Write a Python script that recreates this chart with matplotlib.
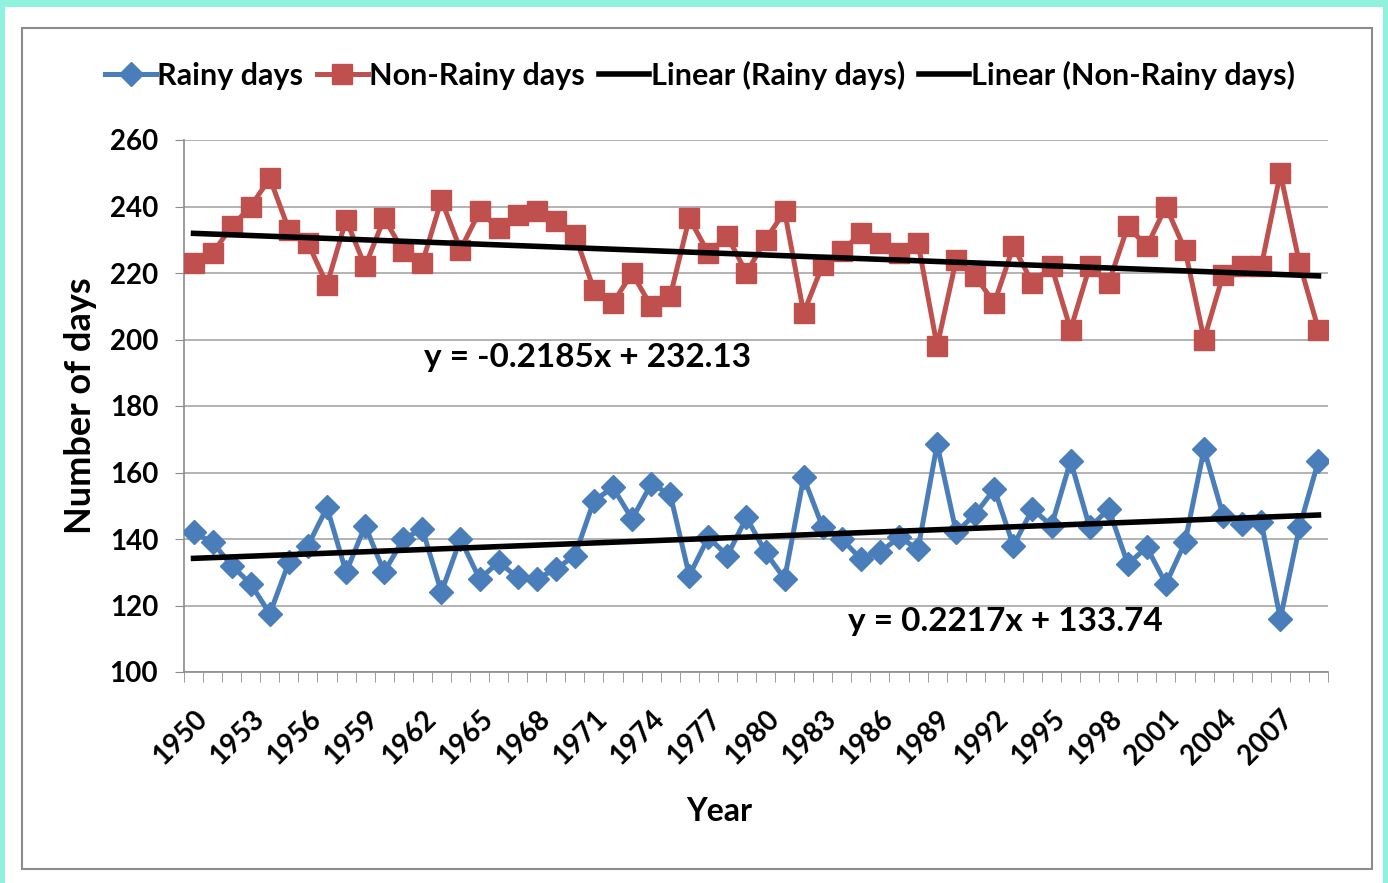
import numpy as np
import matplotlib
matplotlib.use("Agg")
import matplotlib.pyplot as plt
from matplotlib.patches import Rectangle

# data
years = list(range(1950, 2010))
rainy = [142, 139, 132, 126.5, 117.5, 133, 138, 149.5, 130, 144,
         130, 140, 143, 124, 140, 128, 133, 128.5, 128, 131,
         135, 151.5, 155.5, 146, 156.5, 153.5, 129, 140.5, 135, 146.5,
         136, 128, 158.5, 143.5, 140, 134, 136, 140.5, 137, 168.5,
         142, 147.5, 155, 138, 149, 144, 163.5, 143.5, 149, 132.5,
         137.5, 126.5, 139, 167, 147, 144.5, 145, 116, 143.5, 163.5]
non_rainy = [223, 226, 234, 240, 248.5, 233, 229, 216.5, 236, 222,
             236.5, 226.5, 223, 242, 227, 238.5, 233.5, 237.5, 238.5, 235.5,
             231.5, 215, 211, 220, 210, 213, 236.5, 226, 231, 220,
             230, 238.5, 208, 222.5, 226.5, 232, 229, 226, 229, 198,
             224, 219, 211, 228, 217, 222, 203, 222, 217, 234,
             228, 240, 227, 200, 219.5, 222, 222, 250, 223, 203]
tick_years = list(range(1950, 2008, 3))
y_ticks = [100, 120, 140, 160, 180, 200, 220, 240, 260]
eq_rainy = "y = 0.2217x + 133.74"
eq_non_rainy = "y = -0.2185x + 232.13"

blue = "#4a7ebb"
red = "#c0504d"
plt.rcParams['font.family'] = ['Lato', 'DejaVu Sans']
plt.rcParams['font.weight'] = 'bold'

fig = plt.figure(figsize=(13.88, 8.83), dpi=100)
fig.patch.set_facecolor("#8ef2df")
W, H = 1388, 883
fig.patches.append(Rectangle((5 / W, 0), 1378 / W, 1 - 7 / H, transform=fig.transFigure,
                             facecolor="white", edgecolor="none", zorder=0))
fig.patches.append(Rectangle((22 / W, 1 - 869 / H), 1350 / W, 841 / H, transform=fig.transFigure,
                             facecolor="white", edgecolor="#8c8c8c", linewidth=1.5, zorder=0))

ax = fig.add_axes([184 / W, 1 - 672 / H, (1328 - 184) / W, (672 - 140) / H])
ax.set_zorder(2)
ax.set_facecolor("white")

ax.plot(years, rainy, color=blue, lw=3.6, marker="D", markersize=12, label="Rainy days", zorder=3)
ax.plot(years, non_rainy, color=red, lw=3.6, marker="s", markersize=15, label="Non-Rainy days", zorder=3)

# linear trends
x = np.array(years)
for series, lab in [(rainy, "Linear (Rainy days)"), (non_rainy, "Linear (Non-Rainy days)")]:
    k, b = np.polyfit(x, series, 1)
    ax.plot(x, k * x + b, color="black", lw=4, label=lab, zorder=4)

ax.text(1962.1, 194.5, eq_non_rainy, fontsize=24, fontweight="bold", va="center", ha="left")
ax.text(1984.3, 115.3, eq_rainy, fontsize=24, fontweight="bold", va="center", ha="left")

ax.set_xlim(1949.5, 2009.5)
ax.set_ylim(100, 260)
ax.set_yticks(y_ticks)
ax.set_xticks(tick_years)
ax.set_xticklabels([str(t) for t in tick_years], rotation=45, ha="right", va="top",
                   rotation_mode="anchor")
ax.set_xticks(np.arange(1949.5, 2010, 1), minor=True)
ax.tick_params(axis="x", which="major", length=0, labelsize=20, pad=24)
ax.tick_params(axis="x", which="minor", length=7, color="#8c8c8c", direction="out")
ax.tick_params(axis="y", length=6.5, color="#8c8c8c", labelsize=20, pad=12)
for lbl in ax.get_xticklabels() + ax.get_yticklabels():
    lbl.set_fontweight("bold")
ax.grid(axis="y", color="#a6a6a6", lw=1.2)
ax.set_axisbelow(True)
for s in ["top", "right"]:
    ax.spines[s].set_visible(False)
ax.spines["left"].set_color("#8c8c8c")
ax.spines["bottom"].set_color("#8c8c8c")
ax.spines["left"].set_linewidth(1.2)
ax.spines["bottom"].set_linewidth(1.2)

ax.set_ylabel("Number of days", fontsize=26, fontweight="bold", labelpad=9)
ax.set_xlabel("Year", fontsize=23, fontweight="bold", labelpad=20)
ax.xaxis.label.set_x((719 - 184) / (1328 - 184))

leg = fig.legend(loc="center", bbox_to_anchor=(700 / W, 1 - 75 / H), ncol=4, frameon=False,
                 handlelength=1.65, handletextpad=0.05, columnspacing=0.45,
                 prop={"weight": "bold", "size": 22})
leg.set_zorder(3)

fig.savefig("out.png", dpi=100, facecolor=fig.get_facecolor())
